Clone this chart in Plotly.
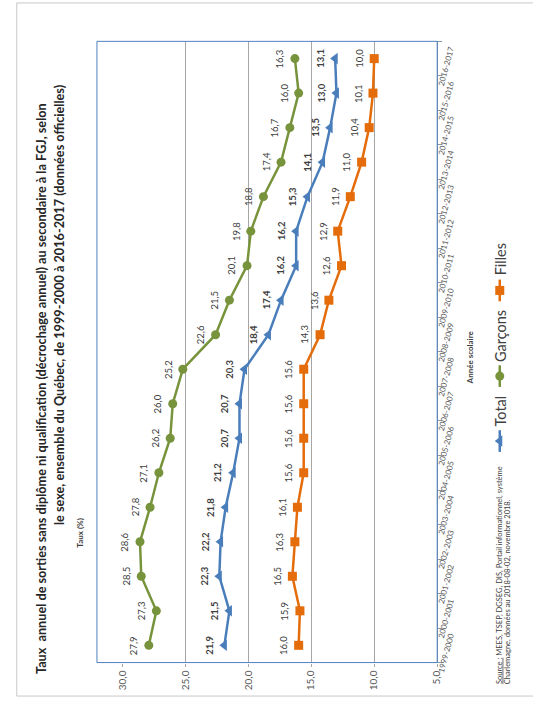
import plotly.graph_objects as go

# ---------------- data ----------------
years = ["1999-2000", "2000-2001", "2001-2002", "2002-2003", "2003-2004", "2004-2005",
         "2005-2006", "2006-2007", "2007-2008", "2008-2009", "2009-2010", "2010-2011",
         "2011-2012", "2012-2013", "2013-2014", "2014-2015", "2015-2016", "2016-2017"]
garcons = [27.9, 27.3, 28.5, 28.6, 27.8, 27.1, 26.2, 26.0, 25.2, 22.6, 21.5, 20.1,
           19.8, 18.8, 17.4, 16.7, 16.0, 16.3]
total = [21.9, 21.5, 22.3, 22.2, 21.8, 21.2, 20.7, 20.7, 20.3, 18.4, 17.4, 16.2,
         16.2, 15.3, 14.1, 13.5, 13.0, 13.1]
filles = [16.0, 15.9, 16.5, 16.3, 16.1, 15.6, 15.6, 15.6, 15.6, 14.3, 13.6, 12.6,
          12.9, 11.9, 11.0, 10.4, 10.1, 10.0]
value_ticks = [30, 25, 20, 15, 10, 5]
series_names = ["Total", "Garçons", "Filles"]

title_line1 = "Taux  annuel de sorties sans diplôme ni qualification (décrochage annuel) au secondaire à la FGJ, selon"
title_line2 = "le sexe, ensemble du Québec, de 1999-2000 à 2016-2017 (données officielles)"
source_line1 = "<u>Source :</u> MEES, TSEP, DGSEG, DIS, Portail informationnel, système"
source_line2 = "Charlemagne, données au 2018-08-02, novembre 2018."

# ---------------- layout constants ----------------
W, H = 538, 710
PL, PR, PT, PB = 118, 440, 42, 673
FONT = "Lato, 'Open Sans', sans-serif"
GREEN = "rgb(119,147,60)"
BLUE = "rgb(74,126,187)"
ORANGE = "rgb(228,108,10)"
TXT = "#404040"


def fr(v):
    return f"{v:.1f}".replace(".", ",")


fig = go.Figure()

styles = {
    "Total": (total, BLUE, "triangle-left", True, 10),
    "Garçons": (garcons, GREEN, "circle", False, 9),
    "Filles": (filles, ORANGE, "square", False, 9),
}

for name in series_names:
    vals, col, sym, bold, msize = styles[name]
    fig.add_trace(go.Scatter(
        x=vals, y=years, mode="lines+markers", name=name,
        line=dict(color=col, width=2.5),
        marker=dict(symbol=sym, size=msize, color=col),
        showlegend=False, cliponaxis=False, xaxis="x", yaxis="y"))
    for yr, v in zip(years, vals):
        t = fr(v)
        if bold:
            t = f"<b>{t}</b>"
        fig.add_annotation(x=v, y=yr, xref="x", yref="y", text=t, textangle=-90,
                           showarrow=False, xshift=-15, xanchor="center", yanchor="middle",
                           font=dict(size=9.5, color=TXT, family=FONT))

# ---------------- manual (rotated) legend ----------------
legend_pos = {"Total": (448, 435), "Garçons": (382, 370), "Filles": (295, 282)}
for name in series_names:
    vals, col, sym, bold, msize = styles[name]
    my, ty = legend_pos[name]
    fig.add_trace(go.Scatter(x=[504, 504], y=[my - 11, my + 11], mode="lines",
                             line=dict(color=col, width=2.5), showlegend=False,
                             xaxis="x2", yaxis="y2", hoverinfo="skip"))
    fig.add_trace(go.Scatter(x=[504], y=[my], mode="markers",
                             marker=dict(symbol=sym, size=msize, color=col), showlegend=False,
                             xaxis="x2", yaxis="y2", hoverinfo="skip"))
    fig.add_annotation(x=505, y=ty, xref="x2", yref="y2", text=name, textangle=-90,
                       showarrow=False, xanchor="center", yanchor="bottom",
                       font=dict(size=14.5, color=TXT, family=FONT))

# ---------------- texts ----------------
fig.add_annotation(x=35, y=687, xref="x2", yref="y2", text=f"<b>{title_line1}</b>",
                   textangle=-90, showarrow=False, xanchor="center", yanchor="bottom",
                   font=dict(size=12.7, color="#262626", family=FONT))
fig.add_annotation(x=53, y=535, xref="x2", yref="y2", text=f"<b>{title_line2}</b>",
                   textangle=-90, showarrow=False, xanchor="center", yanchor="bottom",
                   font=dict(size=12.7, color="#262626", family=FONT))
fig.add_annotation(x=75, y=558, xref="x2", yref="y2", text="<b>Taux (%)</b>",
                   textangle=-90, showarrow=False, xanchor="center", yanchor="bottom",
                   font=dict(size=8, color=TXT, family=FONT))
fig.add_annotation(x=473, y=392, xref="x2", yref="y2", text="<b>Année scolaire</b>",
                   textangle=-90, showarrow=False, xanchor="center", yanchor="bottom",
                   font=dict(size=8, color=TXT, family=FONT))
fig.add_annotation(x=503, y=697, xref="x2", yref="y2", text=source_line1,
                   textangle=-90, showarrow=False, xanchor="center", yanchor="bottom",
                   font=dict(size=7.5, color=TXT, family=FONT))
fig.add_annotation(x=512, y=697, xref="x2", yref="y2", text=source_line2,
                   textangle=-90, showarrow=False, xanchor="center", yanchor="bottom",
                   font=dict(size=7.5, color=TXT, family=FONT))

# ---------------- shapes ----------------
fig.add_shape(type="rect", xref="x2", yref="y2", x0=10, x1=560, y0=3, y1=707,
              line=dict(color="#c8c8c8", width=1), layer="below")
fig.add_shape(type="rect", xref="x2", yref="y2", x0=92, x1=PR, y0=PT, y1=PB,
              line=dict(color="rgb(79,129,189)", width=1), layer="below")

fig.update_layout(
    width=W, height=H,
    margin=dict(l=0, r=0, t=0, b=0),
    paper_bgcolor="white", plot_bgcolor="rgba(0,0,0,0)",
    showlegend=False,
    font=dict(family=FONT, color=TXT),
    xaxis=dict(domain=[PL / W, PR / W], range=[30, 5], anchor="y",
               tickvals=value_ticks, ticktext=[fr(v) for v in value_ticks],
               tickangle=-90, tickfont=dict(size=10, color="#595959"),
               showgrid=True, gridcolor="#a6a6a6", gridwidth=1,
               ticks="outside", ticklen=3, tickcolor="#a6a6a6",
               zeroline=False, showline=False),
    yaxis=dict(domain=[(H - PB) / H, (H - PT) / H], type="category",
               categoryorder="array", categoryarray=years,
               range=[-0.5, len(years) - 0.5], anchor="x", side="right",
               showline=True, linecolor="#8c97a8", linewidth=1,
               ticks="outside", tickson="boundaries", ticklen=4, tickcolor="#8c97a8",
               tickangle=-75, ticklabelshift=28, tickfont=dict(size=8, color="#595959"),
               showgrid=False, zeroline=False),
    xaxis2=dict(domain=[0, 1], range=[0, W], anchor="y2", visible=False, fixedrange=True),
    yaxis2=dict(domain=[0, 1], range=[H, 0], anchor="x2", visible=False, fixedrange=True),
)

fig.write_html("out.html")
